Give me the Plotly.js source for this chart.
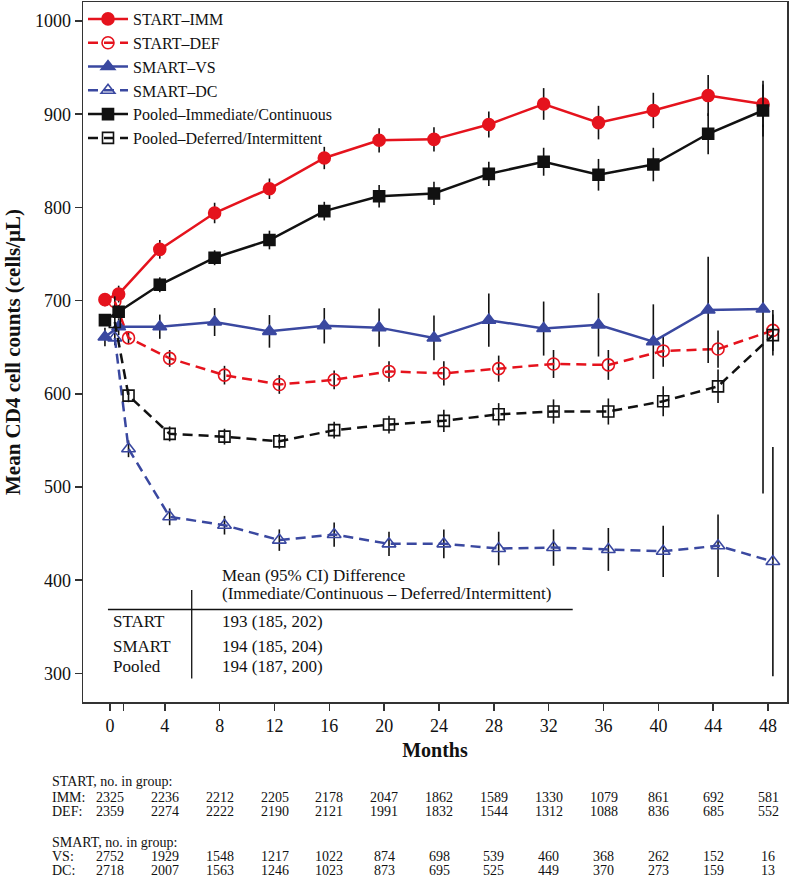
<!DOCTYPE html>
<html>
<head>
<meta charset="utf-8">
<script src="https://cdn.plot.ly/plotly-3.0.1.min.js"></script>
<style>html,body{margin:0;padding:0;background:#fff;}#chart{width:791px;height:879px;}</style>
</head>
<body>
<div id="chart"></div>
<script>
// ---- data ----
const months = [0, 1, 4, 8, 12, 16, 20, 24, 28, 32, 36, 40, 44, 48];
const tickMonths = [0, 1, 4, 8, 12, 16, 20, 24, 28, 32, 36, 40, 44, 48];
const tickLabels = ["0", "", "4", "8", "12", "16", "20", "24", "28", "32", "36", "40", "44", "48"];

const startImm    = [701, 707, 755, 794, 820, 853, 872, 873, 889, 911, 891, 904, 920, 911];
const startImmErr = [7, 9, 10, 11, 11, 12, 13, 13, 14, 17, 18, 19, 22, 25];
const startDef    = [699, 660, 638, 620, 610, 615, 624, 622, 627, 632, 631, 646, 648, 668];
const startDefErr = [6, 6, 9, 10, 10, 10, 11, 13, 14, 15, 16, 17, 20, 22];
const smartVs     = [661, 672, 672, 677, 667, 673, 671, 660, 679, 670, 674, 656, 690, 691];
const smartVsErr  = [10, 9, 13, 15, 17.5, 19, 20.5, 24, 28.5, 29, 34, 40, 57, 198];
const smartDc     = [660, 541, 468, 459, 443, 449, 439, 439, 434, 435, 433, 431, 437, 420];
const smartDcErr  = [8, 9, 9, 10, 11.5, 13, 13, 15.5, 18, 19.5, 23, 27.5, 33.5, 123];
const pooledImm    = [679, 688, 717, 746, 765, 796, 812, 815, 836, 849, 835, 846, 879, 904];
const pooledImmErr = [6, 7, 8, 8, 10, 10, 12, 12.5, 13, 15, 17, 18, 22, 28];
const pooledDef    = [677, 598, 557, 554, 549, 561, 567, 571, 578, 581, 581, 592, 608, 663];
const pooledDefErr = [6, 7, 8, 8.5, 8, 9, 9.5, 12, 12, 13, 14, 16, 18, 22];

const seriesNames = ["START–IMM", "START–DEF", "SMART–VS", "SMART–DC",
                     "Pooled–Immediate/Continuous", "Pooled–Deferred/Intermittent"];

const tableHeader1 = "Mean (95% CI) Difference";
const tableHeader2 = "(Immediate/Continuous – Deferred/Intermittent)";
const tableRows = ["START", "SMART", "Pooled"];
const tableValues = ["193 (185, 202)", "194 (185, 204)", "194 (187, 200)"];

const countMonths = [0, 4, 8, 12, 16, 20, 24, 28, 32, 36, 40, 44, 48];
const nStartImm = [2325, 2236, 2212, 2205, 2178, 2047, 1862, 1589, 1330, 1079, 861, 692, 581];
const nStartDef = [2359, 2274, 2222, 2190, 2121, 1991, 1832, 1544, 1312, 1088, 836, 685, 552];
const nSmartVs  = [2752, 1929, 1548, 1217, 1022, 874, 698, 539, 460, 368, 262, 152, 16];
const nSmartDc  = [2718, 2007, 1563, 1246, 1023, 873, 695, 525, 449, 370, 273, 159, 13];

// ---- styling ----
const FONT = '"Liberation Serif", "Times New Roman", serif';
const RED = "#e5131d";
const BLUE = "#3a48a0";
const BLACK = "#111111";
const IMM_SHIFT = -0.37, DEF_SHIFT = 0.35;

function shifted(d) { return months.map(m => m + d); }
function mk(name, y, err, color, symbol, size, dash, shift) {
  return {
    type: "scatter", mode: "lines+markers", name: name,
    x: shifted(shift), y: y,
    error_y: {type: "data", array: err, visible: true, color: BLACK, thickness: 1.6, width: 0},
    line: {color: color, width: 2.5, dash: dash},
    marker: {color: color, symbol: symbol, size: size, line: {color: color, width: 1.6}},
    cliponaxis: true
  };
}
const DASH = "10px,6px";
const traces = [
  mk(seriesNames[0], startImm, startImmErr, RED, "circle", 12, "solid", IMM_SHIFT),
  mk(seriesNames[1], startDef, startDefErr, RED, "circle-open", 12, DASH, DEF_SHIFT),
  mk(seriesNames[2], smartVs, smartVsErr, BLUE, "triangle-up", 12, "solid", IMM_SHIFT),
  mk(seriesNames[3], smartDc, smartDcErr, BLUE, "triangle-up-open", 12, DASH, DEF_SHIFT),
  mk(seriesNames[4], pooledImm, pooledImmErr, BLACK, "square", 11, "solid", IMM_SHIFT),
  mk(seriesNames[5], pooledDef, pooledDefErr, BLACK, "square-open", 11, DASH, DEF_SHIFT)
];

const annotations = [];
const tFont = {family: FONT, size: 17, color: BLACK};
annotations.push({xref: "x", yref: "y", x: 8.02, y: 405.3, text: tableHeader1, showarrow: false, xanchor: "left", yanchor: "middle", font: tFont});
annotations.push({xref: "x", yref: "y", x: 8.02, y: 385.6, text: tableHeader2, showarrow: false, xanchor: "left", yanchor: "middle", font: tFont});
const rowY = [355.2, 329.1, 307.6];
tableRows.forEach((r, i) => {
  annotations.push({xref: "x", yref: "y", x: 0.07, y: rowY[i], text: r, showarrow: false, xanchor: "left", yanchor: "middle", font: tFont});
  annotations.push({xref: "x", yref: "y", x: 8.02, y: rowY[i], text: tableValues[i], showarrow: false, xanchor: "left", yanchor: "middle", font: tFont});
});

const nFont = {family: FONT, size: 14, color: BLACK};
const labelX = -0.047;
function countRow(label, values, py) {
  annotations.push({xref: "paper", yref: "paper", x: labelX, y: py, text: label, showarrow: false, xanchor: "left", yanchor: "middle", font: nFont});
  values.forEach((v, i) => {
    annotations.push({xref: "x", yref: "paper", x: countMonths[i], y: py, text: String(v), showarrow: false, xanchor: "center", yanchor: "middle", font: nFont});
  });
}
annotations.push({xref: "paper", yref: "paper", x: labelX, y: -0.1129, text: "START, no. in group:", showarrow: false, xanchor: "left", yanchor: "middle", font: nFont});
countRow("IMM:", nStartImm, -0.1361);
countRow("DEF:", nStartDef, -0.1567);
annotations.push({xref: "paper", yref: "paper", x: labelX, y: -0.2004, text: "SMART, no. in group:", showarrow: false, xanchor: "left", yanchor: "middle", font: nFont});
countRow("VS:", nSmartVs, -0.2210);
countRow("DC:", nSmartDc, -0.2414);

const shapes = [
  {type: "line", xref: "x", yref: "y", x0: -0.15, x1: 33.75, y0: 368.5, y1: 368.5, line: {color: BLACK, width: 1.5}},
  {type: "line", xref: "x", yref: "y", x0: 5.96, x1: 5.96, y0: 389.4, y1: 294.4, line: {color: BLACK, width: 1.3}}
];

const layout = {
  width: 791, height: 879,
  margin: {l: 83, r: 4, t: 2, b: 177},
  paper_bgcolor: "#ffffff", plot_bgcolor: "#ffffff",
  font: {family: FONT, color: BLACK},
  showlegend: true,
  legend: {x: 0.0, y: 1.0, xanchor: "left", yanchor: "top", bgcolor: "rgba(0,0,0,0)",
           font: {family: FONT, size: 16, color: BLACK}, tracegroupgap: 0, itemwidth: 40},
  xaxis: {
    range: [-1.97, 49.38], tickmode: "array", tickvals: tickMonths, ticktext: tickLabels,
    ticks: "outside", ticklen: 7, tickwidth: 1.5, tickcolor: "#333",
    showline: true, mirror: true, linecolor: "#333", linewidth: 1.5,
    showgrid: false, zeroline: false, automargin: false,
    tickfont: {family: FONT, size: 18, color: BLACK},
    title: {text: "Months", standoff: 8, font: {family: FONT, size: 20, weight: "bold", color: BLACK}}
  },
  yaxis: {
    range: [269.3, 1020.4], tickmode: "array", tickvals: [300, 400, 500, 600, 700, 800, 900, 1000],
    ticks: "outside", ticklen: 7, tickwidth: 1.5, tickcolor: "#333",
    showline: true, mirror: true, linecolor: "#333", linewidth: 1.5,
    showgrid: false, zeroline: false, automargin: false,
    tickfont: {family: FONT, size: 18, color: BLACK},
    title: {text: "Mean CD4 cell counts (cells/μL)", standoff: 8, font: {family: FONT, size: 21, weight: "bold", color: BLACK}}
  },
  annotations: annotations,
  shapes: shapes
};

Plotly.newPlot("chart", traces, layout, {displayModeBar: false, staticPlot: true});
</script>
</body>
</html>
